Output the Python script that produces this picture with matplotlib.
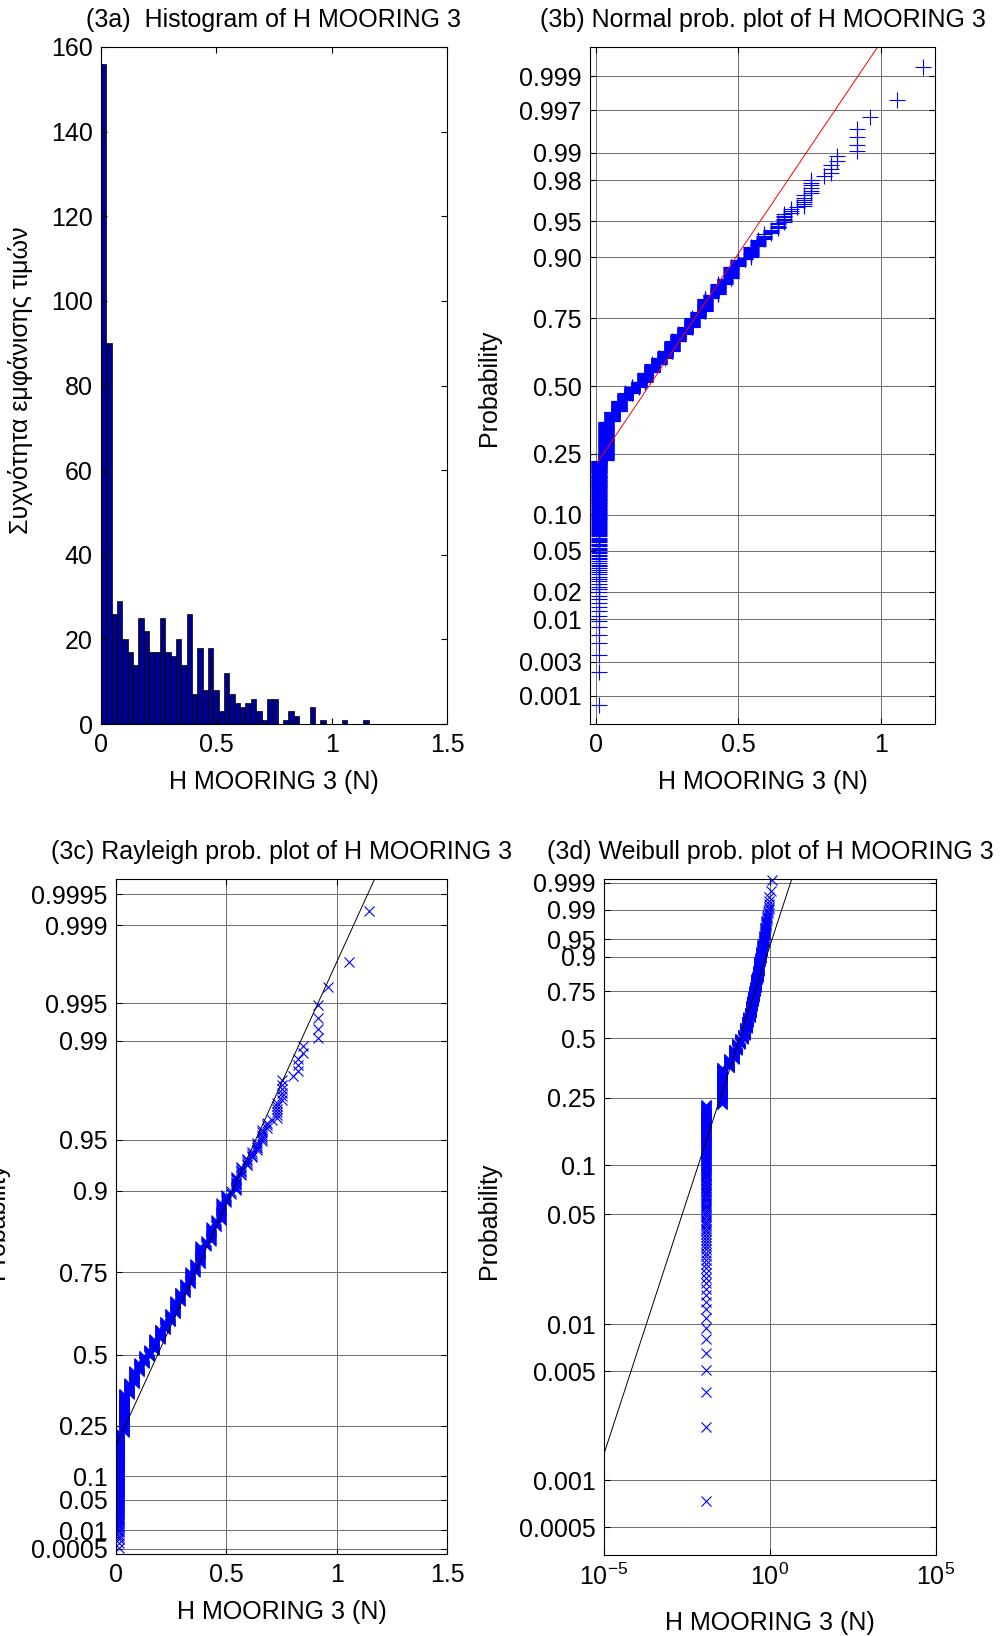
import numpy as np
import matplotlib
matplotlib.use("Agg")
import matplotlib.pyplot as plt
from matplotlib.ticker import FixedLocator, NullLocator, FixedFormatter, FuncFormatter
from statistics import NormalDist

plt.rcParams['font.family'] = ['Liberation Sans', 'DejaVu Sans']
plt.rcParams['font.size'] = 18
plt.rcParams['mathtext.fontset'] = 'custom'
plt.rcParams['mathtext.rm'] = 'Liberation Sans'
plt.rcParams['mathtext.default'] = 'regular'

# ---------------- data ----------------
hist_counts = [156, 90, 26, 29, 20, 17, 14, 25, 22, 17, 17, 25, 17, 16, 20, 14, 26, 7,
               18, 8, 18, 8, 3, 12, 7, 5, 4, 5, 6, 3, 1, 6, 6, 0, 1, 3, 2, 0, 0, 4,
               0, 1, 0, 0, 0, 1, 0, 0, 0, 1]
hist_range = [0.0, 1.16]

# reference lines (x at 1st / 3rd quartile probabilities)
ref_p = [0.25, 0.75]
norm_ref_x = [0.027, 0.347]
norm_ref_span = [0.006, 1.16]
ray_ref_x = [0.042, 0.359]
wbl_ref_x = [0.032, 0.356]

hist_xticks = [0, 0.5, 1, 1.5]
hist_yticks = [0, 20, 40, 60, 80, 100, 120, 140, 160]
norm_pticks = [0.001, 0.003, 0.01, 0.02, 0.05, 0.10, 0.25, 0.50, 0.75, 0.90, 0.95, 0.98, 0.99, 0.997, 0.999]
norm_plabels = ['0.001', '0.003', '0.01', '0.02', '0.05', '0.10', '0.25', '0.50', '0.75', '0.90', '0.95', '0.98', '0.99', '0.997', '0.999']
ray_pticks = [0.0005, 0.01, 0.05, 0.1, 0.25, 0.5, 0.75, 0.9, 0.95, 0.99, 0.995, 0.999, 0.9995]
ray_plabels = ['0.0005', '0.01', '0.05', '0.1', '0.25', '0.5', '0.75', '0.9', '0.95', '0.99', '0.995', '0.999', '0.9995']
wbl_pticks = [0.0005, 0.001, 0.005, 0.01, 0.05, 0.1, 0.25, 0.5, 0.75, 0.9, 0.95, 0.99, 0.999]
wbl_plabels = ['0.0005', '0.001', '0.005', '0.01', '0.05', '0.1', '0.25', '0.5', '0.75', '0.9', '0.95', '0.99', '0.999']

titles = ['(3a)  Histogram of H MOORING 3', '(3b) Normal prob. plot of H MOORING 3',
          '(3c) Rayleigh prob. plot of H MOORING 3', '(3d) Weibull prob. plot of H MOORING 3']
xlabel = 'H MOORING 3 (N)'
ylabel_hist = 'Συχνότητα εμφάνισης τιμών'
ylabel_prob = 'Probability'

# ---------------- derived sample ----------------
edges = np.linspace(hist_range[0], hist_range[1], len(hist_counts) + 1)
centers = 0.5 * (edges[:-1] + edges[1:])
sample = np.sort(np.repeat(centers, hist_counts))
n = len(sample)
pp = (np.arange(1, n + 1) - 0.5) / n

# ---------------- probability scales ----------------
_nd = NormalDist()
_ppf = np.frompyfunc(lambda v: _nd.inv_cdf(v) if 0 < v < 1 else np.nan, 1, 1)
_cdf = np.frompyfunc(_nd.cdf, 1, 1)


def norm_fwd(p):
    p = np.asarray(p, dtype=float)
    pc = np.clip(p, 1e-12, 1 - 1e-12)
    out = np.asarray(_ppf(pc), dtype=float)
    return np.where(np.isnan(p), np.nan, out)


def norm_inv(z):
    z = np.asarray(z, dtype=float)
    return np.asarray(_cdf(z), dtype=float)


def ray_fwd(p):
    p = np.asarray(p, dtype=float)
    pc = np.clip(p, 0, 1 - 1e-15)
    return np.sqrt(-2 * np.log1p(-pc))


def ray_inv(q):
    q = np.asarray(q, dtype=float)
    return -np.expm1(-np.square(np.maximum(q, 0)) / 2)


def wbl_fwd(p):
    p = np.asarray(p, dtype=float)
    pc = np.clip(p, 1e-300, 1 - 1e-16)
    return np.log(-np.log1p(-pc))


def wbl_inv(w):
    w = np.asarray(w, dtype=float)
    return -np.expm1(-np.exp(w))


# ---------------- figure ----------------
W, H = 1000, 1636
fig = plt.figure(figsize=(W / 100, H / 100), dpi=100)


def add_ax(x0, y0, x1, y1):
    return fig.add_axes([x0 / W, 1 - y1 / H, (x1 - x0) / W, (y1 - y0) / H])


def style(ax, grid=True):
    ax.tick_params(direction='in', top=True, right=True, length=4, width=0.8,
                   labelsize=18, colors='black')
    ax.tick_params(axis='x', pad=6.5)
    ax.tick_params(axis='y', pad=6)
    ax.tick_params(which='minor', length=0)
    for s in ax.spines.values():
        s.set_linewidth(0.8)
    if grid:
        ax.grid(True, color='#6e6e6e', linewidth=0.7, linestyle='-')
        ax.set_axisbelow(True)


def ftext(x, y, s, **kw):
    fig.text(x / W, 1 - y / H, s, fontsize=18, **kw)


GRID = '#6e6e6e'

# (3a) histogram
axa = add_ax(101, 47, 447, 724)
axa.hist(sample, bins=edges, color=(0, 0, 0.5625), edgecolor='black', linewidth=0.5)
axa.set_xlim(0, 1.5)
axa.set_ylim(0, 160)
axa.set_xticks(hist_xticks)
axa.set_xticklabels(['0', '0.5', '1', '1.5'])
axa.set_yticks(hist_yticks)
style(axa, grid=False)
ftext(274, 27.5, titles[0], ha='center', va='baseline')
ftext(274, 789, xlabel, ha='center', va='baseline')
ftext(21, 380, ylabel_hist, ha='center', va='center', rotation=90)

# (3b) normal probability plot
axb = add_ax(590, 47, 935, 724)
axb.set_yscale('function', functions=(norm_fwd, norm_inv))
z_ref = [_nd.inv_cdf(p) for p in ref_p]
sig = (norm_ref_x[1] - norm_ref_x[0]) / (z_ref[1] - z_ref[0])
mu = norm_ref_x[0] - sig * z_ref[0]
line_x = np.array(norm_ref_span)
line_p = norm_inv((line_x - mu) / sig)
axb.plot(sample, pp, linestyle='none', marker='+', ms=11, mew=0.8, color='blue')
axb.plot(line_x, line_p, color='red', lw=0.7)
axb.set_xlim(-0.02, 1.19)
axb.set_ylim(norm_inv(-3.37), norm_inv(3.38))
axb.set_xticks([0, 0.5, 1])
axb.set_xticklabels(['0', '0.5', '1'])
axb.yaxis.set_major_locator(FixedLocator(norm_pticks))
axb.yaxis.set_major_formatter(FixedFormatter(norm_plabels))
axb.yaxis.set_minor_locator(NullLocator())
style(axb)
ftext(762.5, 27.5, titles[1], ha='center', va='baseline')
ftext(762.5, 789, xlabel, ha='center', va='baseline')
ftext(489, 388, ylabel_prob, ha='center', va='center', rotation=90)

# (3c) Rayleigh probability plot
axc = add_ax(116, 879, 447, 1554)
axc.set_yscale('function', functions=(ray_fwd, ray_inv))
q_ref = ray_fwd(ref_p)
b_r = (ray_ref_x[1] - ray_ref_x[0]) / (q_ref[1] - q_ref[0])
a_r = ray_ref_x[0] - b_r * q_ref[0]
rl_x = np.array([a_r, 1.6])
rl_p = ray_inv((rl_x - a_r) / b_r)
axc.plot(sample, pp, linestyle='none', marker='x', ms=7, mew=0.8, color='blue')
axc.plot(rl_x, rl_p, color='black', lw=0.7)
axc.set_xlim(0, 1.5)
axc.set_ylim(0.0, ray_inv(3.99))
axc.set_xticks([0, 0.5, 1, 1.5])
axc.set_xticklabels(['0', '0.5', '1', '1.5'])
axc.yaxis.set_major_locator(FixedLocator(ray_pticks))
axc.yaxis.set_major_formatter(FixedFormatter(ray_plabels))
axc.yaxis.set_minor_locator(NullLocator())
style(axc)
ftext(281.5, 859, titles[2], ha='center', va='baseline')
ftext(281.5, 1619, xlabel, ha='center', va='baseline')
ftext(-3, 1221, ylabel_prob, ha='center', va='center', rotation=90)

# (3d) Weibull probability plot
axd = add_ax(604, 879, 936, 1555)
axd.set_xscale('log')
axd.set_yscale('function', functions=(wbl_fwd, wbl_inv))
w_ref = wbl_fwd(ref_p)
k_w = (w_ref[1] - w_ref[0]) / (np.log(wbl_ref_x[1]) - np.log(wbl_ref_x[0]))
lnlam = np.log(wbl_ref_x[0]) - w_ref[0] / k_w
w_lo, w_hi = -8.01, 1.985
wl_w = np.array([w_lo - 1, w_hi + 1])
wl_x = np.exp(lnlam + wl_w / k_w)
axd.plot(sample, pp, linestyle='none', marker='x', ms=7, mew=0.8, color='blue', clip_on=False)
axd.plot(wl_x, wbl_inv(wl_w), color='black', lw=0.7)
axd.set_xlim(1e-5, 1e5)
axd.set_ylim(wbl_inv(w_lo), wbl_inv(w_hi))
axd.xaxis.set_major_locator(FixedLocator([1e-5, 1, 1e5]))
axd.xaxis.set_minor_locator(NullLocator())
axd.xaxis.set_major_formatter(FuncFormatter(lambda v, pos: r'$10^{%d}$' % round(np.log10(v))))
axd.yaxis.set_major_locator(FixedLocator(wbl_pticks))
axd.yaxis.set_major_formatter(FixedFormatter(wbl_plabels))
axd.yaxis.set_minor_locator(NullLocator())
style(axd)
ftext(770, 859, titles[3], ha='center', va='baseline')
ftext(770, 1630, xlabel, ha='center', va='baseline')
ftext(489, 1221, ylabel_prob, ha='center', va='center', rotation=90)

fig.savefig('out.png', dpi=100, facecolor='white')
